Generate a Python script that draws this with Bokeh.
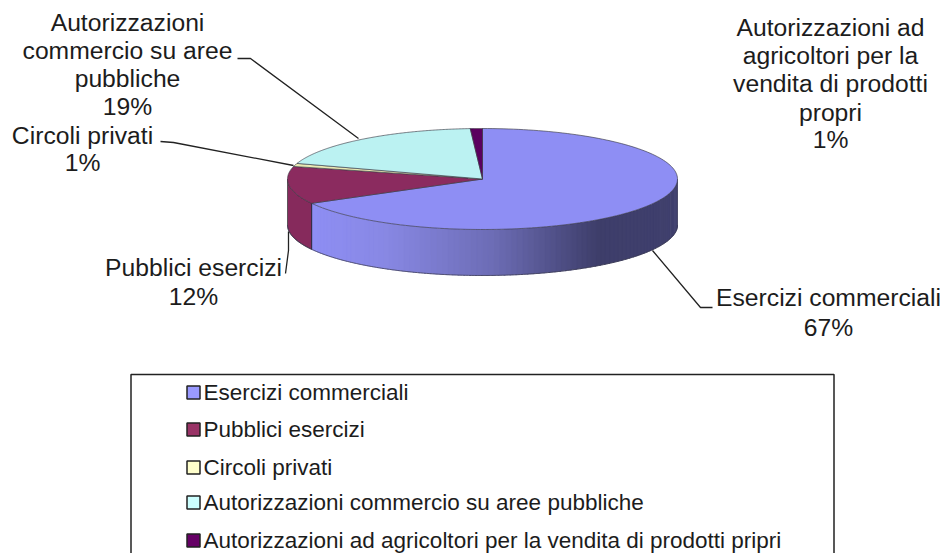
import numpy as np
from bokeh.plotting import figure
from bokeh.models import Range1d
from bokeh.core.properties import value
from bokeh.embed import file_html
from bokeh.resources import INLINE

categories = ["Esercizi commerciali", "Pubblici esercizi", "Circoli privati",
              "Autorizzazioni commercio su aree pubbliche",
              "Autorizzazioni ad agricoltori per la vendita di prodotti pripri"]
shares = [67, 12, 1, 19, 1]
top_colors = ["#8e8ef4", "#8b2b5f", "#e9e9b4", "#bbf2f2", "#5a005f"]
swatch_colors = ["#9999ff", "#993366", "#ffffcc", "#ccffff", "#660066"]
side_colors = ["#8e8ef4", "#862a5c", "#d0d0a0", "#a0d0d0", "#500050"]

# layout of the tilted pie, in page pixels
CX, CY, RX, RY, DEPTH = 482, 178.5, 195, 50.5, 46
FONT = value("Liberation Sans")
INK = "#1c1c1c"

p = figure(width=948, height=553, x_range=Range1d(0, 948), y_range=Range1d(553, 0),
           x_axis_location=None, y_axis_location=None, toolbar_location=None,
           output_backend="svg", min_border=0, outline_line_color=None)
p.grid.visible = False


def rim(a0, a1, n=120, dy=0.0):
    t = np.radians(np.linspace(a0, a1, n))
    return CX + RX * np.sin(t), CY - RY * np.cos(t) + dy


edges = np.cumsum([0] + shares) / sum(shares) * 360.0

# side wall: only the front half of the rim (90..270 degrees) is visible
shade_x = [0.0, 0.2, 0.5, 0.78, 1.0]
shade_rgb = np.array([[142, 142, 244], [136, 136, 228], [108, 108, 180], [62, 62, 106], [64, 64, 110]])


def shade(x, base):
    f = (x - (CX - RX)) / (2 * RX)
    f0 = (310 - (CX - RX)) / (2 * RX)
    g = (f - f0) / (1 - f0)
    rgb = [np.interp(g, shade_x, shade_rgb[:, k]) for k in range(3)]
    return "#%02x%02x%02x" % tuple(int(round(v)) for v in rgb)


xs, ys, cols = [], [], []
blue_a0, blue_a1 = max(edges[0], 90), min(edges[1], 270)
strips = np.linspace(blue_a0, blue_a1, 90)
for a0, a1 in zip(strips[:-1], strips[1:]):
    x, y = rim(a0, a1 + 0.4, 4)
    xs.append(list(x) + list(x[::-1]))
    ys.append(list(y) + list((y + DEPTH)[::-1]))
    cols.append(shade(x.mean(), None))
p.patches(xs, ys, fill_color=cols, line_color=cols, line_width=0.5)

# maroon part of the wall
x, y = rim(max(edges[1], 90), min(edges[2], 270), 30)
p.patch(list(x) + list(x[::-1]), list(y) + list((y + DEPTH)[::-1]),
        fill_color=side_colors[1], line_color="#3a2a3a", line_width=1, line_alpha=0.7)

# outline of the wall
x, y = rim(90, 270, 200)
p.line(list(x), list(y + DEPTH), line_color="#3a3a50", line_width=1, line_alpha=0.75)
xb, yb = rim(edges[1], edges[1], 1)
p.line([xb[0], xb[0]], [yb[0], yb[0] + DEPTH], line_color="#2a2a40", line_width=1, line_alpha=0.8)
xr, yr = rim(90, 90, 1)
p.line([xr[0], xr[0]], [yr[0], yr[0] + DEPTH], line_color="#50506a", line_width=1, line_alpha=0.7)
xl, yl = rim(270, 270, 1)
p.line([xl[0], xl[0]], [yl[0], yl[0] + DEPTH], line_color="#5a5a5a", line_width=1, line_alpha=0.7)

# top face
for i, col in enumerate(top_colors):
    x, y = rim(edges[i], edges[i + 1], 160)
    p.patch([CX] + list(x), [CY] + list(y), fill_color=col, line_color="#3c3c46",
            line_width=1, line_alpha=0.65)

# leader lines
leaders = [
    ([652, 700, 712], [250, 307, 307]),
    ([288, 288, 285], [231, 250, 273]),
    ([293, 173, 160], [165, 142, 141]),
    ([358, 250, 237], [138, 58, 58]),
]
for lx, ly in leaders:
    p.line(lx, ly, line_color="#222222", line_width=1.3)

# data labels, one entry per line
label_lines = [
    ("Autorizzazioni", 127, 22), ("commercio su aree", 127, 50), ("pubbliche", 127, 78), ("19%", 127, 106),
    ("Circoli privati", 82, 135), ("1%", 82, 162),
    ("Autorizzazioni ad", 830, 27), ("agricoltori per la", 830, 55), ("vendita di prodotti", 830, 83),
    ("propri", 830, 112), ("1%", 830, 139),
    ("Esercizi commerciali", 828, 297), ("67%", 828, 327),
    ("Pubblici esercizi", 193, 267), ("12%", 193, 296),
]
p.text([t[1] for t in label_lines], [t[2] for t in label_lines], text=[t[0] for t in label_lines],
       text_font=FONT, text_font_size="24.7px", text_align="center", text_baseline="middle",
       text_color=INK)

# legend
p.quad(left=[130.5], right=[833.5], top=[374], bottom=[600], fill_color="white", fill_alpha=0,
       line_color="#222222", line_width=1.5, level="underlay")
rows = [392, 429, 467, 502, 540]
p.rect([193] * 5, rows, width=[13] * 5, height=[13] * 5, fill_color=swatch_colors,
       line_color="#222222", line_width=1.5)
p.text([203] * 5, rows, text=categories, text_font=FONT, text_font_size="22.5px",
       text_align="left", text_baseline="middle", text_color=INK)

open("out.html", "w").write(file_html(p, INLINE))
